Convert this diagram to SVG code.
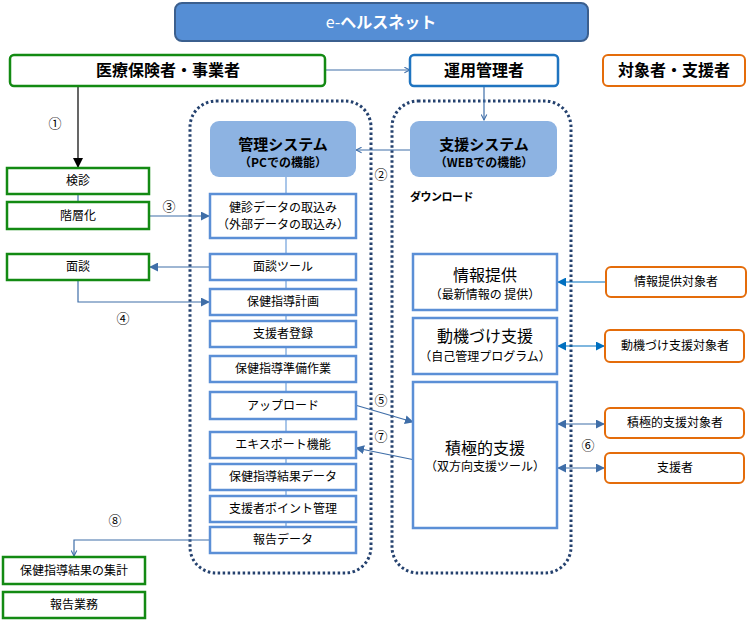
<svg xmlns="http://www.w3.org/2000/svg" width="750" height="622" viewBox="0 0 750 622">
<defs>
<style>
text{font-family:"Noto Sans CJK JP","Liberation Sans",sans-serif;text-anchor:middle;fill:#000}
.t12{font-size:12px}
.t16{font-size:16px}
.b{font-weight:bold}
.num{font-size:13px}
.grn{fill:#fff;stroke:#138a13;stroke-width:2.5}
.blu{fill:#fff;stroke:#5b8fd6;stroke-width:2.5}
.org{fill:#fff;stroke:#e46c0a;stroke-width:2}
.sys{fill:#8db3e2;stroke:none}
.dot{fill:none;stroke:#24416e;stroke-width:3;stroke-dasharray:2.5 2.5}
.ln{fill:none;stroke:#3f6ea8;stroke-width:1.2}
.lnb{fill:none;stroke:#0070c0;stroke-width:1.2}
.lnl{fill:none;stroke:#8db3e2;stroke-width:1.5}
</style>
<marker id="ah" viewBox="0 0 10 10" refX="9" refY="5" markerWidth="9" markerHeight="9" markerUnits="userSpaceOnUse" orient="auto-start-reverse"><path d="M0,0L10,5L0,10z" fill="#3f6ea8"/></marker>
<marker id="ahb" viewBox="0 0 10 10" refX="9" refY="5" markerWidth="9" markerHeight="9" markerUnits="userSpaceOnUse" orient="auto-start-reverse"><path d="M0,0L10,5L0,10z" fill="#0070c0"/></marker>
<marker id="ahk" viewBox="0 0 10 10" refX="9" refY="5" markerWidth="10" markerHeight="10" markerUnits="userSpaceOnUse" orient="auto"><path d="M0,0L10,5L0,10z" fill="#000"/></marker>
<marker id="aho" viewBox="0 0 10 10" refX="9" refY="5" markerWidth="7" markerHeight="7" markerUnits="userSpaceOnUse" orient="auto"><path d="M1,1L9,5L1,9" fill="none" stroke="#3f6ea8" stroke-width="1.5"/></marker>
</defs>
<rect width="750" height="622" fill="#fff"/>

<!-- containers -->
<rect class="dot" x="190" y="101" width="181" height="472" rx="26"/>
<rect class="dot" x="392" y="101" width="179" height="472" rx="26"/>

<g id="connectors">
<line class="lnl" x1="286" y1="177" x2="286" y2="527"/>
<line class="ln" x1="325" y1="70" x2="410" y2="70" marker-end="url(#aho)"/>
<line class="ln" x1="484" y1="86" x2="484" y2="120" marker-end="url(#aho)"/>
<line class="ln" x1="410" y1="150" x2="356" y2="150" marker-end="url(#aho)"/>
<line x1="78" y1="86" x2="78" y2="167" stroke="#000" stroke-width="1.2" marker-end="url(#ahk)"/>
<line class="ln" x1="78" y1="194" x2="78" y2="202" stroke-width="2"/>
<line class="ln" x1="149" y1="216" x2="209" y2="216" marker-end="url(#ah)"/>
<line class="ln" x1="210" y1="267" x2="150" y2="267" marker-end="url(#ah)"/>
<polyline class="ln" points="78,280 78,302 209,302" marker-end="url(#ah)"/>
<line class="ln" x1="355" y1="405" x2="413" y2="422" marker-end="url(#ah)"/>
<line class="ln" x1="415" y1="460" x2="356" y2="448" marker-end="url(#ah)"/>
<polyline class="ln" points="210,540 74,540 74,556" marker-end="url(#aho)"/>
<line class="lnb" x1="606" y1="282" x2="558" y2="282" marker-end="url(#ahb)"/>
<line class="lnb" x1="558" y1="346" x2="604" y2="346" marker-start="url(#ahb)" marker-end="url(#ahb)"/>
<line class="ln" x1="558" y1="424" x2="604" y2="424" marker-start="url(#ah)" marker-end="url(#ah)"/>
<line class="ln" x1="558" y1="468" x2="604" y2="468" marker-start="url(#ah)" marker-end="url(#ah)"/>
</g>

<g id="labels">
<text class="num" x="55" y="128">①</text>
<text class="num" x="381" y="179">②</text>
<text class="num" x="169" y="211">③</text>
<text class="num" x="123" y="323">④</text>
<text class="num" x="381" y="405">⑤</text>
<text class="num" x="588" y="450">⑥</text>
<text class="num" x="381" y="441">⑦</text>
<text class="num" x="115" y="525">⑧</text>
<text x="410" y="201" style="font-size:11px;font-weight:bold;text-anchor:start;letter-spacing:-0.5px">ダウンロード</text>
</g>

<g id="title">
<rect x="175" y="3" width="413" height="38" rx="7" fill="#558ed5" stroke="#3b5f8e" stroke-width="2"/>
<text x="381" y="28" class="t16" style="fill:#fff"><tspan>e-</tspan><tspan font-weight="bold">ヘルスネット</tspan></text>
</g>

<g id="hoken"><rect class="grn" x="10" y="55" width="315" height="31" rx="4"/><text class="t16 b" x="168" y="76">医療保険者・事業者</text></g>
<g id="unyo"><rect x="410" y="55" width="148" height="31" rx="4" fill="#fff" stroke="#1f74c0" stroke-width="2.5"/><text class="t16 b" x="484" y="76">運用管理者</text></g>
<g id="taisho"><rect class="org" x="603" y="55" width="142" height="31" rx="5" stroke-width="2.5"/><text class="t16 b" x="674" y="76">対象者・支援者</text></g>

<g id="kanri"><rect class="sys" x="210" y="121" width="146" height="56" rx="9"/><text class="b" x="283" y="150" style="font-size:15px">管理システム</text><text class="b" x="283" y="167" style="font-size:12px">（PCでの機能）</text></g>
<g id="shien"><rect class="sys" x="410" y="121" width="147" height="56" rx="9"/><text class="b" x="484" y="150" style="font-size:15px">支援システム</text><text class="b" x="484" y="167" style="font-size:12px">（WEBでの機能）</text></g>

<g id="kenshin-data"><rect class="blu" x="210" y="194" width="146" height="44"/><text class="t12" x="283" y="212">健診データの取込み</text><text class="t12" x="283" y="229">（外部データの取込み）</text></g>
<g id="mendan-tool"><rect class="blu" x="210" y="254" width="146" height="26"/><text class="t12" x="283" y="271">面談ツール</text></g>
<g id="keikaku"><rect class="blu" x="210" y="289" width="146" height="26"/><text class="t12" x="283" y="306">保健指導計画</text></g>
<g id="shiensha-toroku"><rect class="blu" x="210" y="321" width="146" height="26"/><text class="t12" x="283" y="338">支援者登録</text></g>
<g id="junbi"><rect class="blu" x="210" y="356" width="146" height="26"/><text class="t12" x="283" y="373">保健指導準備作業</text></g>
<g id="upload"><rect class="blu" x="210" y="392" width="146" height="27"/><text class="t12" x="283" y="410">アップロード</text></g>
<g id="export"><rect class="blu" x="210" y="432" width="146" height="26"/><text class="t12" x="283" y="449">エキスポート機能</text></g>
<g id="kekka-data"><rect class="blu" x="210" y="464" width="146" height="26"/><text class="t12" x="283" y="481">保健指導結果データ</text></g>
<g id="point"><rect class="blu" x="210" y="496" width="146" height="26"/><text class="t12" x="283" y="513">支援者ポイント管理</text></g>
<g id="hokoku-data"><rect class="blu" x="210" y="527" width="146" height="26"/><text class="t12" x="283" y="544">報告データ</text></g>

<g id="kenshin"><rect class="grn" x="7" y="168" width="142" height="26"/><text class="t12" x="78" y="185">検診</text></g>
<g id="kaisoka"><rect class="grn" x="7" y="202" width="142" height="27"/><text class="t12" x="78" y="220">階層化</text></g>
<g id="mendan"><rect class="grn" x="7" y="254" width="142" height="26"/><text class="t12" x="78" y="271">面談</text></g>
<g id="shukei"><rect class="grn" x="3" y="557" width="142" height="27"/><text class="t12" x="74" y="575">保健指導結果の集計</text></g>
<g id="hokoku-gyomu"><rect class="grn" x="3" y="592" width="142" height="26"/><text class="t12" x="74" y="609">報告業務</text></g>

<g id="joho"><rect class="blu" x="413" y="254" width="144" height="56"/><text class="t16" x="485" y="281">情報提供</text><text class="t12" x="485" y="299">（最新情報の 提供）</text></g>
<g id="doki"><rect class="blu" x="413" y="318" width="144" height="56"/><text class="t16" x="485" y="342">動機づけ支援</text><text class="t12" x="485" y="361">（自己管理プログラム）</text></g>
<g id="sekkyoku"><rect class="blu" x="413" y="382" width="144" height="146"/><text class="t16" x="485" y="454">積極的支援</text><text class="t12" x="485" y="471">（双方向支援ツール）</text></g>

<g id="joho-taisho"><rect class="org" x="606" y="267" width="140" height="30" rx="5"/><text class="t12" x="676" y="286">情報提供対象者</text></g>
<g id="doki-taisho"><rect class="org" x="605" y="330" width="139" height="32" rx="5"/><text class="t12" x="675" y="350">動機づけ支援対象者</text></g>
<g id="sekkyoku-taisho"><rect class="org" x="605" y="408" width="139" height="30" rx="5"/><text class="t12" x="675" y="427">積極的支援対象者</text></g>
<g id="shiensha"><rect class="org" x="605" y="453" width="139" height="30" rx="5"/><text class="t12" x="675" y="472">支援者</text></g>
</svg>
